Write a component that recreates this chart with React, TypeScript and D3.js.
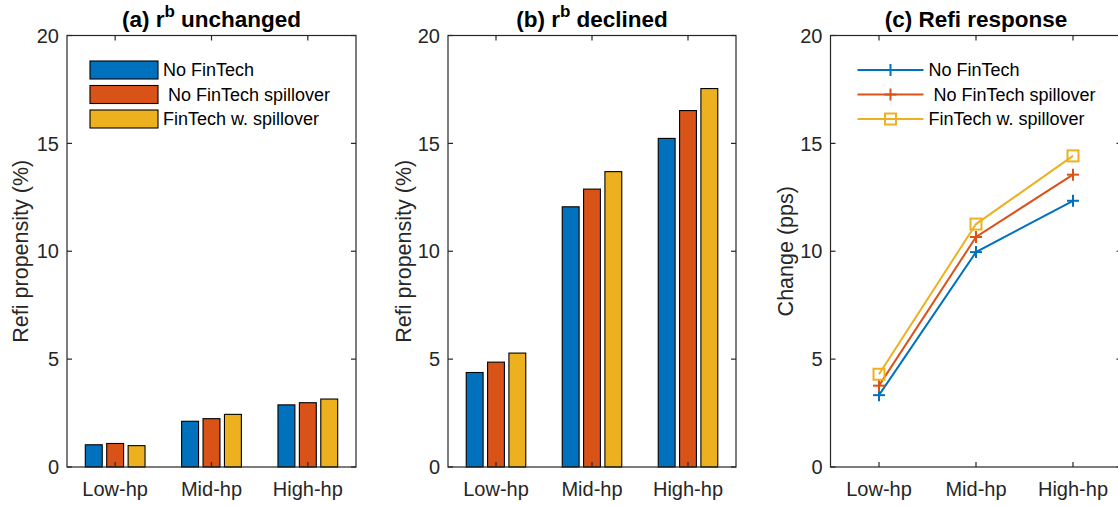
import React from 'react';
import { scaleLinear, scaleBand, line } from 'd3';

const categories = ['Low-hp', 'Mid-hp', 'High-hp'];
const seriesNames = ['No FinTech', ' No FinTech spillover', 'FinTech w. spillover'];
const colors = ['#0072BD', '#D95319', '#EDB120'];
const yTicks = [0, 5, 10, 15, 20];

// (a) r^b unchanged
const unchangedNoFintech = [1.03, 2.12, 2.88];
const unchangedNoSpill = [1.09, 2.24, 2.98];
const unchangedSpill = [0.99, 2.44, 3.15];

// (b) r^b declined
const declinedNoFintech = [4.38, 12.06, 15.23];
const declinedNoSpill = [4.86, 12.88, 16.52];
const declinedSpill = [5.28, 13.69, 17.54];

// (c) refi response
const responseNoFintech = [3.33, 9.96, 12.34];
const responseNoSpill = [3.77, 10.66, 13.55];
const responseSpill = [4.30, 11.26, 14.42];

const FONT = '"Liberation Sans", Arial, Helvetica, sans-serif';
const AX = '#262626';
const TOP = 35.5;
const BOTTOM = 467;
const TICK = 5;

function Axes({ left, right, yLabel, yLabelX, titleMain, titleSup, titleRest, children }) {
  const x = scaleLinear().domain([0.5, 3.5]).range([left, right]);
  const y = scaleLinear().domain([0, 20]).range([BOTTOM, TOP]);
  const cx = (left + right) / 2;
  return (
    <g>
      {children(x, y)}
      <rect x={left} y={TOP} width={right - left} height={BOTTOM - TOP} fill="none" stroke={AX} strokeWidth={1.2} />
      {yTicks.map(t => (
        <g key={t}>
          <line x1={left} x2={left + TICK} y1={y(t)} y2={y(t)} stroke={AX} strokeWidth={1.2} />
          <line x1={right} x2={right - TICK} y1={y(t)} y2={y(t)} stroke={AX} strokeWidth={1.2} />
          <text x={left - 8} y={y(t)} dy="0.36em" textAnchor="end" fontSize={20} fill={AX}>{t}</text>
        </g>
      ))}
      {categories.map((c, i) => (
        <g key={c}>
          <line x1={x(i + 1)} x2={x(i + 1)} y1={BOTTOM} y2={BOTTOM - TICK} stroke={AX} strokeWidth={1.2} />
          <line x1={x(i + 1)} x2={x(i + 1)} y1={TOP} y2={TOP + TICK} stroke={AX} strokeWidth={1.2} />
          <text x={x(i + 1)} y={496} textAnchor="middle" fontSize={20} fill={AX}>{c}</text>
        </g>
      ))}
      <text transform={`translate(${yLabelX},${(TOP + BOTTOM) / 2}) rotate(-90)`} textAnchor="middle" dy="0.35em" fontSize={21.5} fill={AX}>{yLabel}</text>
      <text x={cx} y={27} textAnchor="middle" fontWeight="bold" fontSize={22.5} fill="#000" style={{ whiteSpace: 'pre' }}>
        <tspan>{titleMain}</tspan>
        {titleSup && <tspan dy={-10} fontSize={17}>{titleSup}</tspan>}
        <tspan dy={titleSup ? 10 : 0}>{titleRest}</tspan>
      </text>
    </g>
  );
}

function BarPanel({ series, legend, ...rest }) {
  return (
    <Axes {...rest}>
      {(x, y) => {
        const unit = x(1) - x(0);
        const inner = scaleBand().domain(seriesNames).range([-0.31 * unit, 0.31 * unit]).paddingInner(0.21);
        return (
          <g>
            {series.map((vals, s) => vals.map((v, i) => (
              <rect key={`${s}-${i}`} x={x(i + 1) + inner(seriesNames[s])} y={y(v)} width={inner.bandwidth()} height={y(0) - y(v)}
                fill={colors[s]} stroke="#000" strokeWidth={1.1} />
            )))}
            {legend && seriesNames.map((n, s) => (
              <g key={n}>
                <rect x={x(0.5) + 23} y={61 + s * 24.5} width={68} height={18} fill={colors[s]} stroke="#000" strokeWidth={1.1} />
                <text x={x(0.5) + 96} y={70 + s * 24.5} dy="0.36em" fontSize={18} fill="#000" style={{ whiteSpace: 'pre' }}>{n}</text>
              </g>
            ))}
          </g>
        );
      }}
    </Axes>
  );
}

function Marker({ kind, x, y, color }) {
  if (kind === 'square') {
    return <rect x={x - 5.5} y={y - 5.5} width={11} height={11} fill="none" stroke={color} strokeWidth={2} />;
  }
  return (
    <g stroke={color} strokeWidth={2}>
      <line x1={x - 6} x2={x + 6} y1={y} y2={y} />
      <line x1={x} x2={x} y1={y - 6} y2={y + 6} />
    </g>
  );
}

function LinePanel({ series, ...rest }) {
  const kinds = ['plus', 'plus', 'square'];
  return (
    <Axes {...rest}>
      {(x, y) => {
        const path = line<number>().x((_, i) => x(i + 1)).y(v => y(v));
        return (
          <g>
            {series.map((vals, s) => (
              <g key={s}>
                <path d={path(vals) || ''} fill="none" stroke={colors[s]} strokeWidth={2} />
                {vals.map((v, i) => <Marker key={i} kind={kinds[s]} x={x(i + 1)} y={y(v)} color={colors[s]} />)}
              </g>
            ))}
            {seriesNames.map((n, s) => {
              const ly = 70 + s * 24.5;
              const lx = x(0.5) + 27;
              return (
                <g key={n}>
                  <line x1={lx} x2={lx + 66} y1={ly} y2={ly} stroke={colors[s]} strokeWidth={2} />
                  <Marker kind={kinds[s]} x={lx + 33} y={ly} color={colors[s]} />
                  <text x={lx + 71} y={ly} dy="0.36em" fontSize={18} fill="#000" style={{ whiteSpace: 'pre' }}>{n}</text>
                </g>
              );
            })}
          </g>
        );
      }}
    </Axes>
  );
}

export default function App() {
  return (
    <svg width={1118} height={506} style={{ position: 'absolute', left: 0, top: 0, background: '#fff', fontFamily: FONT }}>
      <BarPanel left={67} right={356} yLabel="Refi propensity (%)" yLabelX={20}
        titleMain="(a) r" titleSup="b" titleRest=" unchanged" legend
        series={[unchangedNoFintech, unchangedNoSpill, unchangedSpill]} />
      <BarPanel left={448} right={736} yLabel="Refi propensity (%)" yLabelX={403}
        titleMain="(b) r" titleSup="b" titleRest=" declined"
        series={[declinedNoFintech, declinedNoSpill, declinedSpill]} />
      <LinePanel left={830.5} right={1121.5} yLabel="Change (pps)" yLabelX={785}
        titleMain="(c) Refi response" titleSup="" titleRest=""
        series={[responseNoFintech, responseNoSpill, responseSpill]} />
    </svg>
  );
}
